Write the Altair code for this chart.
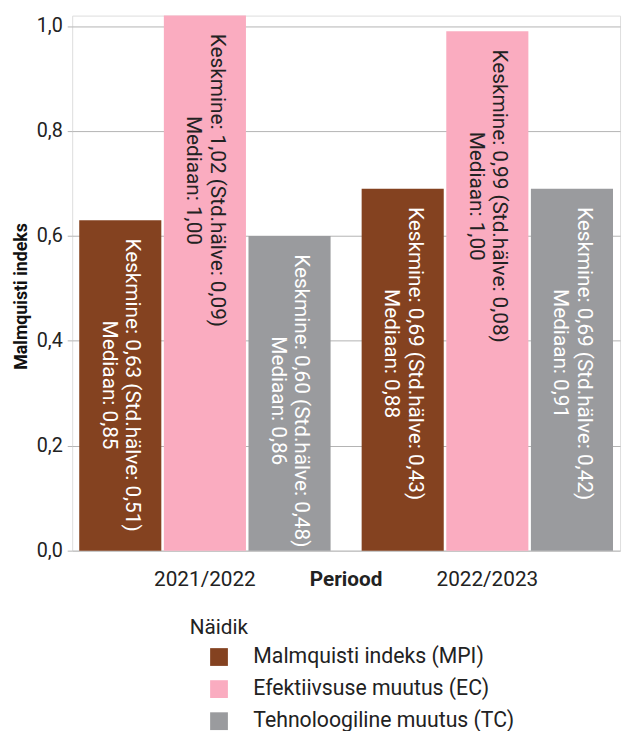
import altair as alt
import pandas as pd

periods = ["2021/2022", "2022/2023"]
indicators = ["Malmquisti indeks (MPI)", "Efektiivsuse muutus (EC)", "Tehnoloogiline muutus (TC)"]
colors = ["#844220", "#faacc0", "#9a9b9e"]

mean_vals = {
    "Malmquisti indeks (MPI)": [0.63, 0.69],
    "Efektiivsuse muutus (EC)": [1.02, 0.99],
    "Tehnoloogiline muutus (TC)": [0.60, 0.69],
}
std_vals = {
    "Malmquisti indeks (MPI)": [0.51, 0.43],
    "Efektiivsuse muutus (EC)": [0.09, 0.08],
    "Tehnoloogiline muutus (TC)": [0.48, 0.42],
}
median_vals = {
    "Malmquisti indeks (MPI)": [0.85, 0.88],
    "Efektiivsuse muutus (EC)": [1.00, 1.00],
    "Tehnoloogiline muutus (TC)": [0.86, 0.91],
}


def fmt(v):
    return f"{v:.2f}".replace(".", ",")


rows = []
for ind in indicators:
    for i, p in enumerate(periods):
        m, s, md = mean_vals[ind][i], std_vals[ind][i], median_vals[ind][i]
        rows.append({
            "period": p,
            "indicator": ind,
            "mean": m,
            "label": f"Keskmine: {fmt(m)} (Std.hälve: {fmt(s)})\nMediaan: {fmt(md)}",
        })
df = pd.DataFrame(rows)

FONT = "Roboto"

x = alt.X("period:N", sort=periods,
          scale=alt.Scale(paddingInner=0.11, paddingOuter=0.025),
          axis=alt.Axis(title="Periood", labelAngle=0, ticks=False, domain=False,
                        labelFontSize=21, labelPadding=18, labelColor="#222222",
                        titleFontSize=21, titleFontWeight="bold", titleColor="#222222",
                        titleX=277, titleY=18, titleBaseline="top", titleAlign="center"))
xo = alt.XOffset("indicator:N", sort=indicators, scale=alt.Scale(paddingInner=0.03))
y = alt.Y("mean:Q", scale=alt.Scale(domain=[0, 1.02], nice=False),
          axis=alt.Axis(title="Malmquisti indeks", values=[0, 0.2, 0.4, 0.6, 0.8, 1.0],
                        labelExpr="replace(format(datum.value, '.1f'), '.', ',')",
                        domain=False, tickSize=5, tickColor="#b3b3b3",
                        gridColor="#b3b3b3", labelFontSize=20, labelPadding=5,
                        labelColor="#222222",
                        titleFontSize=18, titleFontWeight="bold", titleColor="#111111",
                        titleX=-51, titleY=284, titleBaseline="middle", titleAlign="center"))

bars = alt.Chart(df).mark_bar().encode(
    x=x, xOffset=xo, y=y,
    color=alt.Color("indicator:N", sort=indicators,
                    scale=alt.Scale(domain=indicators, range=colors),
                    legend=alt.Legend(title="Näidik", orient="none", legendX=119, legendY=609,
                                      direction="vertical", symbolType="square",
                                      symbolSize=324, symbolStrokeWidth=0, symbolOffset=19,
                                      labelFontSize=21.5, labelOffset=24, rowPadding=9.5,
                                      titleFontSize=21, titleFontWeight="normal",
                                      titleColor="#222222", labelColor="#222222",
                                      titlePadding=9, padding=0, labelLimit=400)),
)

texts = alt.Chart(df).mark_text(angle=90, align="center", baseline="middle", dx=167, dy=-12,
                                lineBreak="\n", fontSize=21, font=FONT, lineHeight=24).encode(
    x=x, xOffset=xo, y=y,
    text="label:N",
    color=alt.condition(alt.datum.indicator == "Efektiivsuse muutus (EC)",
                        alt.value("#222222"), alt.value("#ffffff")),
)

chart = alt.layer(bars, texts).properties(
    width=555, height=542,
    autosize=alt.AutoSizeParams(type="none"),
    padding={"left": 65, "top": 3, "right": 5, "bottom": 178},
).configure_view(stroke=None).configure(font=FONT)

chart.save("out.html", embed_options={"renderer": "svg", "actions": False})
